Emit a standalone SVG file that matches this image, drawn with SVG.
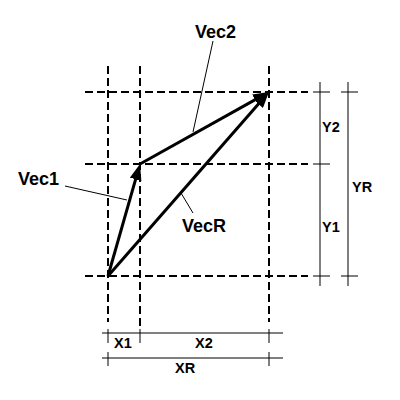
<svg xmlns="http://www.w3.org/2000/svg" width="400" height="400" viewBox="0 0 400 400">
<style>
.grid{stroke:#000;stroke-width:2;stroke-dasharray:8,4;fill:none}
.dim{stroke:#000;stroke-width:1;fill:none}
.vec{stroke:#000;stroke-width:3;fill:none;marker-end:url(#ah)}
.lead{stroke:#000;stroke-width:1;fill:none}
.big{font-family:"Liberation Sans",Arial,sans-serif;font-weight:bold;font-size:18px;fill:#000}
.sm{font-family:"Liberation Sans",Arial,sans-serif;font-weight:bold;font-size:14.5px;fill:#000}
</style>
<defs>
<marker id="ah" viewBox="0 0 16 12" refX="8" refY="6" markerWidth="16" markerHeight="12" markerUnits="userSpaceOnUse" orient="auto">
<path d="M0,0 L16,6 L0,12 z" fill="#000"/>
</marker>
</defs>
<rect width="400" height="400" fill="#fff"/>
<g id="grid">
<line class="grid" x1="108" y1="66" x2="108" y2="322"/>
<line class="grid" x1="140" y1="66" x2="140" y2="330"/>
<line class="grid" x1="269" y1="66" x2="269" y2="322"/>
<line class="grid" x1="85" y1="92" x2="308" y2="92"/>
<line class="grid" x1="85" y1="164" x2="308" y2="164"/>
<line class="grid" x1="85" y1="276" x2="308" y2="276"/>
</g>
<g id="dimensions">
<line class="dim" x1="102" y1="333" x2="283" y2="333"/>
<line class="dim" x1="108" y1="329" x2="108" y2="343"/>
<line class="dim" x1="140" y1="329" x2="140" y2="343"/>
<line class="dim" x1="269" y1="329" x2="269" y2="343"/>
<line class="dim" x1="102" y1="358" x2="283" y2="358"/>
<line class="dim" x1="108" y1="352" x2="108" y2="366"/>
<line class="dim" x1="269" y1="352" x2="269" y2="366"/>
<line class="dim" x1="320" y1="82" x2="320" y2="286"/>
<line class="dim" x1="313" y1="92" x2="330" y2="92"/>
<line class="dim" x1="313" y1="164" x2="330" y2="164"/>
<line class="dim" x1="313" y1="276" x2="330" y2="276"/>
<line class="dim" x1="348" y1="82" x2="348" y2="286"/>
<line class="dim" x1="341" y1="92" x2="358" y2="92"/>
<line class="dim" x1="341" y1="276" x2="358" y2="276"/>
<text class="sm" x="114" y="348">X1</text>
<text class="sm" x="195" y="348">X2</text>
<text class="sm" x="175" y="373">XR</text>
<text class="sm" x="322" y="132">Y2</text>
<text class="sm" x="322" y="232">Y1</text>
<text class="sm" x="352" y="192">YR</text>
</g>
<g id="connectors">
<line class="vec" x1="108" y1="276" x2="137.8" y2="171.7"/>
<line class="vec" x1="140" y1="164" x2="262" y2="95.9"/>
<line class="vec" x1="108" y1="276" x2="263.7" y2="98"/>
<line class="lead" x1="213" y1="41" x2="193" y2="132"/>
<line class="lead" x1="65" y1="186" x2="127" y2="200"/>
<line class="lead" x1="181" y1="193" x2="193" y2="213"/>
</g>
<g id="vec2"><text class="big" x="195" y="38">Vec2</text></g>
<g id="vec1"><text class="big" x="18" y="185">Vec1</text></g>
<g id="vecr"><text class="big" x="182" y="232">VecR</text></g>
</svg>
